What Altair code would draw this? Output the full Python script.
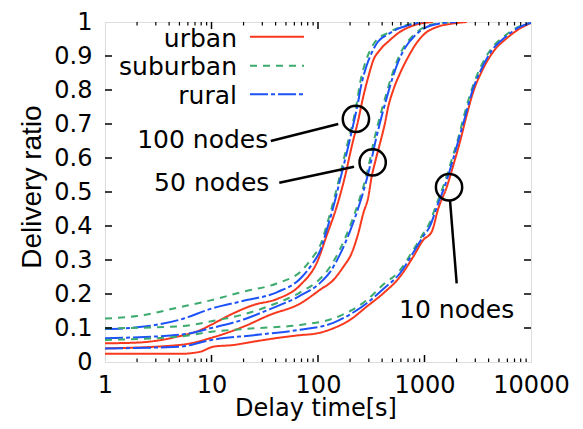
import altair as alt
import pandas as pd

scenarios = ["urban", "suburban", "rural"]
colors = ["#f8381c", "#3daa6e", "#1d52f8"]
dashes = [[1, 0], [7, 6], [18, 3, 4, 3]]

# ---- 100 nodes ----
x_urban_100 = [1, 2, 5, 8, 10, 16, 25, 41, 68, 100, 120, 150, 179, 207, 239, 266, 297, 331, 382, 474, 589, 731, 900, 1200]
y_urban_100 = [0.055, 0.057, 0.076, 0.095, 0.110, 0.143, 0.168, 0.185, 0.226, 0.300, 0.370, 0.457, 0.545, 0.633, 0.712, 0.780, 0.839, 0.888, 0.918, 0.947, 0.971, 0.986, 0.995, 1.0]
x_suburban_100 = [1, 2, 5, 10, 20, 41, 68, 90, 104, 120, 139, 161, 186, 215, 231, 248, 277, 310, 354, 440, 548, 680, 900]
y_suburban_100 = [0.128, 0.135, 0.161, 0.182, 0.207, 0.231, 0.265, 0.310, 0.340, 0.400, 0.470, 0.550, 0.633, 0.712, 0.761, 0.820, 0.879, 0.918, 0.947, 0.966, 0.981, 0.991, 1.0]
x_rural_100 = [1, 2, 5, 10, 20, 41, 68, 90, 104, 120, 139, 161, 186, 215, 235, 255, 285, 320, 365, 450, 560, 700, 950]
y_rural_100 = [0.097, 0.102, 0.124, 0.157, 0.180, 0.205, 0.245, 0.292, 0.325, 0.385, 0.455, 0.535, 0.615, 0.700, 0.755, 0.815, 0.870, 0.910, 0.942, 0.963, 0.980, 0.990, 1.0]

# ---- 50 nodes ----
x_urban_50 = [1, 5, 10.7, 20, 35, 68, 104, 139, 173, 207, 239, 266, 297, 319, 343, 382, 425, 457, 509, 589, 705, 850, 1000, 1300, 1800, 2500]
y_urban_50 = [0.040, 0.050, 0.074, 0.104, 0.138, 0.172, 0.212, 0.241, 0.280, 0.320, 0.379, 0.437, 0.486, 0.545, 0.587, 0.643, 0.702, 0.751, 0.800, 0.849, 0.898, 0.940, 0.965, 0.985, 0.995, 1.0]
x_suburban_50 = [1, 5, 10, 20, 35, 68, 104, 130, 160, 200, 240, 280, 300, 340, 380, 430, 490, 560, 650, 780, 1000, 1400, 2000]
y_suburban_50 = [0.099, 0.105, 0.120, 0.140, 0.165, 0.205, 0.244, 0.280, 0.330, 0.400, 0.470, 0.540, 0.580, 0.660, 0.720, 0.780, 0.840, 0.890, 0.930, 0.960, 0.985, 0.997, 1.0]
x_rural_50 = [1, 5, 10, 20, 35, 68, 104, 130, 160, 200, 240, 280, 310, 350, 390, 440, 500, 570, 660, 800, 1000, 1400, 2000]
y_rural_50 = [0.070, 0.080, 0.100, 0.125, 0.155, 0.195, 0.232, 0.265, 0.315, 0.385, 0.455, 0.525, 0.580, 0.655, 0.715, 0.775, 0.835, 0.885, 0.925, 0.958, 0.982, 0.996, 1.0]

# ---- 10 nodes ----
x_urban_10 = [1, 5, 7.8, 10.4, 16, 25, 47, 68, 97, 139, 200, 287, 410, 589, 785, 974, 1168, 1349, 1616, 1866, 2154, 2490, 2872, 3443, 4430, 5910, 7880, 10000]
y_urban_10 = [0.024, 0.024, 0.030, 0.045, 0.050, 0.060, 0.073, 0.079, 0.084, 0.099, 0.124, 0.163, 0.202, 0.251, 0.310, 0.359, 0.383, 0.452, 0.514, 0.579, 0.648, 0.726, 0.795, 0.854, 0.913, 0.952, 0.981, 0.997]
x_suburban_10 = [1, 5, 10, 25, 68, 139, 200, 287, 410, 589, 785, 974, 1100, 1300, 1550, 1800, 2100, 2400, 2800, 3300, 4200, 5600, 7500, 10000]
y_suburban_10 = [0.065, 0.075, 0.089, 0.099, 0.109, 0.128, 0.150, 0.182, 0.228, 0.270, 0.330, 0.378, 0.405, 0.465, 0.530, 0.595, 0.665, 0.735, 0.805, 0.862, 0.920, 0.958, 0.985, 0.998]
x_rural_10 = [1, 5, 10, 25, 68, 139, 200, 287, 410, 589, 785, 974, 1120, 1320, 1580, 1830, 2120, 2450, 2830, 3380, 4300, 5750, 7700, 10000]
y_rural_10 = [0.040, 0.045, 0.065, 0.079, 0.095, 0.115, 0.140, 0.173, 0.215, 0.261, 0.322, 0.370, 0.398, 0.460, 0.525, 0.590, 0.660, 0.730, 0.800, 0.858, 0.917, 0.956, 0.984, 0.998]

series = [
    ("urban", "100", x_urban_100, y_urban_100),
    ("suburban", "100", x_suburban_100, y_suburban_100),
    ("rural", "100", x_rural_100, y_rural_100),
    ("urban", "50", x_urban_50, y_urban_50),
    ("suburban", "50", x_suburban_50, y_suburban_50),
    ("rural", "50", x_rural_50, y_rural_50),
    ("urban", "10", x_urban_10, y_urban_10),
    ("suburban", "10", x_suburban_10, y_suburban_10),
    ("rural", "10", x_rural_10, y_rural_10),
]
rows = []
for sc, grp, xs, ys in series:
    for i, (xv, yv) in enumerate(zip(xs, ys)):
        rows.append({"x": xv, "y": yv, "scenario": sc, "curve": sc + grp, "i": i})
df = pd.DataFrame(rows)

# axis ticks
y_ticks = [0.1, 0.2, 0.3, 0.4, 0.5, 0.6, 0.7, 0.8, 0.9]
y_labels = [0, 0.1, 0.2, 0.3, 0.4, 0.5, 0.6, 0.7, 0.8, 0.9, 1.0]
x_labels = [1, 10, 100, 1000, 10000]
x_major = [10, 100, 1000]
x_minor = [2, 3, 4, 5, 6, 7, 8, 9, 20, 30, 40, 50, 60, 70, 80, 90,
           200, 300, 400, 500, 600, 700, 800, 900,
           2000, 3000, 4000, 5000, 6000, 7000, 8000, 9000]

# annotations
circle_x = [227, 326, 1700]
circle_y = [0.715, 0.587, 0.514]
label_text = ["100 nodes", "50 nodes", "10 nodes"]
label_x = [34.1, 34.9, 2006]
label_y = [0.6285, 0.504, 0.1285]
label_align = ["right", "right", "center"]
seg_id = ["a", "a", "b", "b", "c", "c"]
seg_x = [36, 155, 43.3, 218, 1735, 2006]
seg_y = [0.65, 0.70, 0.527, 0.574, 0.476, 0.231]

W, H = 426, 340
FONT = "DejaVu Sans"

xscale = alt.Scale(type="log", domain=[1, 10000], nice=False)
yscale = alt.Scale(domain=[0, 1], nice=False, zero=False)

xaxis = alt.Axis(values=x_labels, format="d", title="Delay time[s]",
                 ticks=False, tickSize=0, domain=False, grid=False, labelPadding=11,
                 labelOverlap=False,
                 labelFont=FONT, labelFontSize=24, labelColor="black", labelFlush=False,
                 titleFont=FONT, titleFontSize=24, titleFontWeight="normal", titleColor="black",
                 titleX=210.5, titleY=53, titleBaseline="alphabetic", titleAlign="center")
yaxis = alt.Axis(values=y_labels, format=".1~f",
                 title="Delivery ratio", ticks=False, tickSize=0, domain=False, grid=False,
                 labelPadding=13, labelOverlap=False, labelFont=FONT, labelFontSize=24,
                 labelColor="black", labelFlush=False,
                 titleFont="Liberation Sans", titleFontSize=28, titleFontWeight="normal",
                 titleColor="black", titleAngle=270, titleX=-65, titleY=164.5,
                 titleAlign="center", titleBaseline="alphabetic")


def X(field):
    return alt.X(field, scale=xscale, axis=xaxis)


def Y(field):
    return alt.Y(field, scale=yscale, axis=yaxis)


curves = alt.Chart(df).mark_line(strokeWidth=2, interpolate="monotone", clip=True).encode(
    x=X("x:Q"),
    y=Y("y:Q"),
    color=alt.Color("scenario:N", scale=alt.Scale(domain=scenarios, range=colors), legend=None),
    strokeDash=alt.StrokeDash("scenario:N", scale=alt.Scale(domain=scenarios, range=dashes), legend=None),
    detail="curve:N",
    order="i:Q",
)

yt = pd.DataFrame({"v": y_ticks})
ytick_l = alt.Chart(yt).mark_rule(color="black", strokeWidth=1.5).encode(
    y=Y("v:Q"), x=alt.value(0), x2=alt.value(7))
ytick_r = alt.Chart(yt).mark_rule(color="black", strokeWidth=1.5).encode(
    y=Y("v:Q"), x=alt.value(W - 7), x2=alt.value(W))
xm = pd.DataFrame({"v": x_major})
xn = pd.DataFrame({"v": x_minor})
xtick_b = alt.Chart(xm).mark_rule(color="black", strokeWidth=1.5).encode(
    x=X("v:Q"), y=alt.value(H), y2=alt.value(H - 7))
xtick_t = alt.Chart(xm).mark_rule(color="black", strokeWidth=1.5).encode(
    x=X("v:Q"), y=alt.value(0), y2=alt.value(7))
xmin_b = alt.Chart(xn).mark_rule(color="black", strokeWidth=1.2).encode(
    x=X("v:Q"), y=alt.value(H), y2=alt.value(H - 3.5))
xmin_t = alt.Chart(xn).mark_rule(color="black", strokeWidth=1.2).encode(
    x=X("v:Q"), y=alt.value(0), y2=alt.value(3.5))

circles = alt.Chart(pd.DataFrame({"x": circle_x, "y": circle_y})).mark_point(
    shape="circle", size=690, filled=False, color="black", strokeWidth=2.5, opacity=1).encode(
    x=X("x:Q"), y=Y("y:Q"))

segs = alt.Chart(pd.DataFrame({"id": seg_id, "x": seg_x, "y": seg_y})).mark_line(
    color="black", strokeWidth=2.5).encode(
    x=X("x:Q"), y=Y("y:Q"), detail="id:N")

lab_df = pd.DataFrame({"t": label_text, "x": label_x, "y": label_y, "a": label_align})
labels_r = alt.Chart(lab_df[lab_df.a == "right"]).mark_text(
    align="right", baseline="alphabetic", font=FONT, fontSize=25, color="black").encode(
    x=X("x:Q"), y=Y("y:Q"), text="t:N")
labels_c = alt.Chart(lab_df[lab_df.a == "center"]).mark_text(
    align="center", baseline="alphabetic", font=FONT, fontSize=25, color="black").encode(
    x=X("x:Q"), y=Y("y:Q"), text="t:N")

# manual legend (label right-aligned, sample line to its right, as in gnuplot)
leg_text_y = [24.7, 53.2, 82.0]
leg_line_y = [14.7, 43.7, 72.3]
legend_layers = []
for k, sc in enumerate(scenarios):
    d = pd.DataFrame({"scenario": [sc]})
    legend_layers.append(alt.Chart(d).mark_text(
        align="right", baseline="alphabetic", font=FONT, fontSize=25, color="black").encode(
        text="scenario:N", x=alt.value(132), y=alt.value(leg_text_y[k])))
    legend_layers.append(alt.Chart(d).mark_rule(
        color=colors[k], strokeWidth=2, strokeDash=dashes[k]).encode(
        x=alt.value(145), x2=alt.value(199), y=alt.value(leg_line_y[k])))

chart = alt.layer(
    curves, ytick_l, ytick_r, xtick_b, xtick_t, xmin_b, xmin_t,
    circles, segs, labels_r, labels_c, *legend_layers
).properties(
    width=W, height=H,
    autosize=alt.AutoSizeParams(type="none"),
    padding={"left": 97, "top": 14, "right": 44, "bottom": 59},
).configure_view(
    stroke="black", strokeWidth=2
).configure(background="white")

chart.save("out.html", embed_options={"renderer": "svg", "actions": False})
